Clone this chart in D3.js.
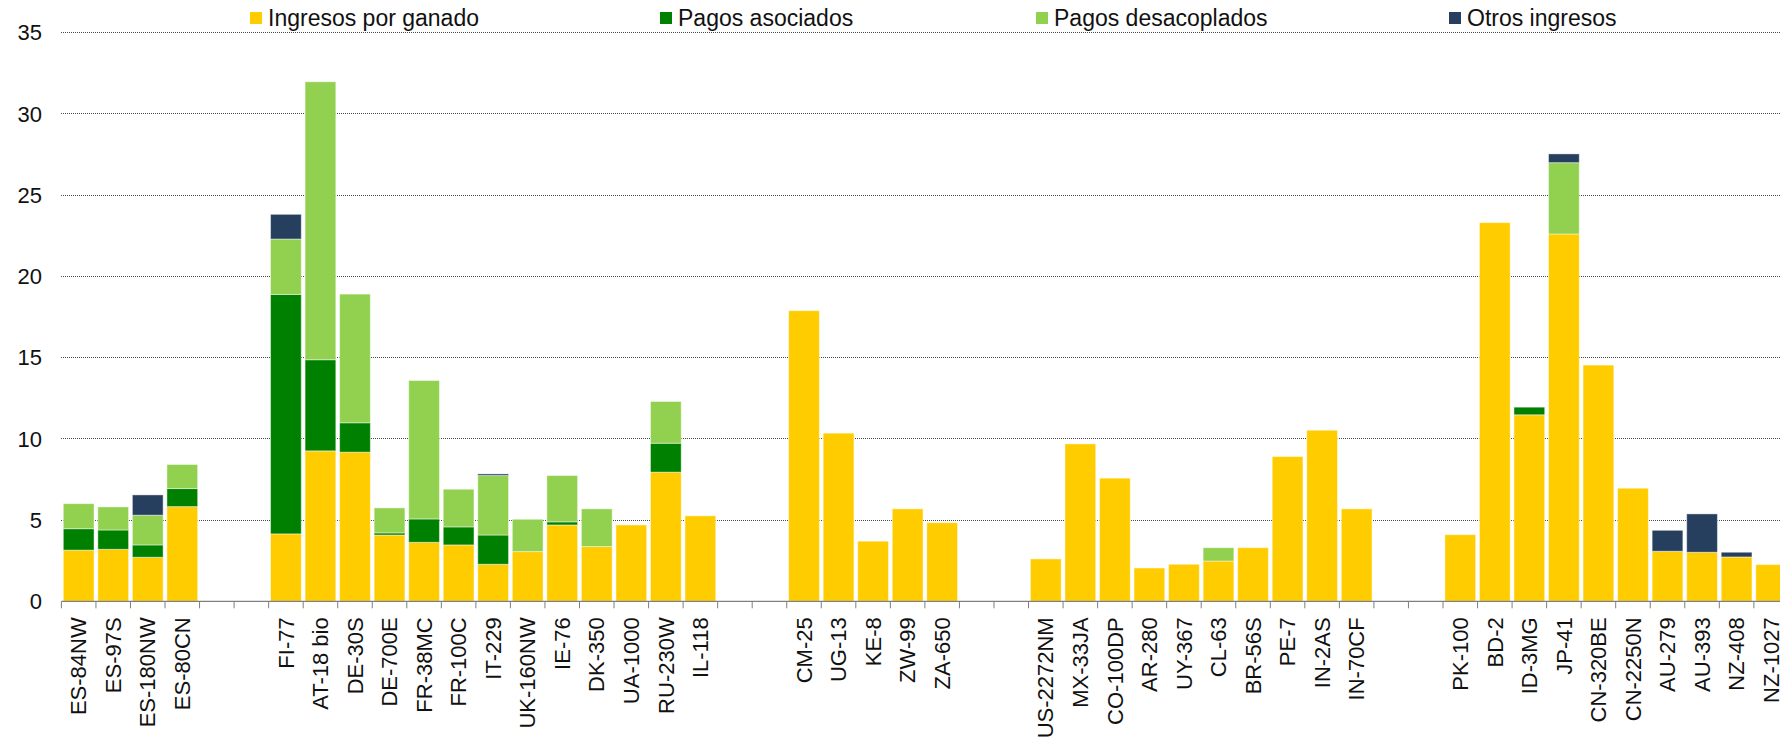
<!DOCTYPE html>
<html>
<head>
<meta charset="utf-8">
<script src="https://cdn.jsdelivr.net/npm/d3@7/dist/d3.min.js"></script>
<style>
  html, body { margin: 0; padding: 0; background: #fff; }
  svg { display: block; font-family: "Liberation Sans", Arial, sans-serif; }
</style>
</head>
<body>
<svg id="chart" width="1780" height="743"></svg>
<script>
// Farm codes; empty strings are spacer slots between regions
const categories = [
  "ES-84NW", "ES-97S", "ES-180NW", "ES-80CN", "", "",
  "FI-77", "AT-18 bio", "DE-30S", "DE-700E", "FR-38MC", "FR-100C", "IT-229",
  "UK-160NW", "IE-76", "DK-350", "UA-1000", "RU-230W", "IL-118", "", "",
  "CM-25", "UG-13", "KE-8", "ZW-99", "ZA-650", "", "",
  "US-2272NM", "MX-33JA", "CO-100DP", "AR-280", "UY-367", "CL-63", "BR-56S",
  "PE-7", "IN-2AS", "IN-70CF", "", "",
  "PK-100", "BD-2", "ID-3MG", "JP-41", "CN-320BE", "CN-2250N", "AU-279",
  "AU-393", "NZ-408", "NZ-1027"
];

const seriesNames = ["Ingresos por ganado", "Pagos asociados", "Pagos desacoplados", "Otros ingresos"];
const seriesColors = ["#FFCC00", "#008000", "#92D050", "#263F5F"];

const ingresosGanado = [
  3.15, 3.20, 2.71, 5.83, null, null,
  4.15, 9.26, 9.18, 4.08, 3.63, 3.47, 2.28, 3.06, 4.70, 3.37, 4.70, 7.95, 5.26, null, null,
  17.89, 10.35, 3.70, 5.69, 4.84, null, null,
  2.61, 9.69, 7.58, 2.05, 2.28, 2.48, 3.30, 8.91, 10.53, 5.69, null, null,
  4.10, 23.31, 11.48, 22.61, 14.54, 6.96, 3.08, 3.02, 2.73, 2.26
];
const pagosAsociados = [
  1.32, 1.19, 0.76, 1.11, null, null,
  14.74, 5.61, 1.81, 0.13, 1.44, 1.11, 1.80, 0, 0.19, 0, 0, 1.78, 0, null, null,
  0, 0, 0, 0, 0, null, null,
  0, 0, 0, 0, 0, 0, 0, 0, 0, 0, null, null,
  0, 0, 0.47, 0, 0, 0, 0, 0, 0, 0
];
const pagosDesacoplados = [
  1.54, 1.42, 1.83, 1.48, null, null,
  3.41, 17.11, 7.92, 1.54, 8.52, 2.32, 3.66, 1.99, 2.85, 2.32, 0, 2.57, 0, null, null,
  0, 0, 0, 0, 0, null, null,
  0, 0, 0, 0, 0, 0.82, 0, 0, 0, 0, null, null,
  0, 0, 0, 4.39, 0, 0, 0, 0, 0, 0
];
const otrosIngresos = [
  0, 0, 1.25, 0, null, null,
  1.52, 0, 0, 0, 0, 0, 0.10, 0, 0, 0, 0, 0, 0, null, null,
  0, 0, 0, 0, 0, null, null,
  0, 0, 0, 0, 0, 0, 0, 0, 0, 0, null, null,
  0, 0, 0, 0.54, 0, 0, 1.29, 2.36, 0.29, 0
];

const yTicks = [0, 5, 10, 15, 20, 25, 30, 35];

// ---- layout ----
const plotLeft = 61.4, step = 34.54;
const yTop = 32.7, yBottom = 601.3;
const fontSize = 22;
const legendFontSize = 23;
const legendX = [250, 660, 1036, 1449];

const svg = d3.select("#chart");

const x = d3.scaleBand()
  .domain(d3.range(categories.length))
  .range([plotLeft, plotLeft + step * categories.length])
  .paddingInner(0.11)
  .paddingOuter(0.055);

const y = d3.scaleLinear().domain([0, 35]).range([yBottom, yTop]);

// Gridlines
svg.append("g")
  .selectAll("line")
  .data(yTicks.filter(t => t > 0))
  .join("line")
  .attr("x1", plotLeft)
  .attr("x2", 1780)
  .attr("y1", d => y(d))
  .attr("y2", d => y(d))
  .attr("stroke", "#4a4a4a")
  .attr("stroke-width", 1)
  .attr("stroke-dasharray", "1,1")
  .attr("shape-rendering", "crispEdges");

// Y tick labels
svg.append("g")
  .selectAll("text")
  .data(yTicks)
  .join("text")
  .attr("x", 42)
  .attr("y", d => y(d))
  .attr("dy", "0.35em")
  .attr("text-anchor", "end")
  .attr("font-size", fontSize)
  .attr("fill", "#111")
  .text(d => d);

// Stacked bars
const rows = categories.map((c, i) => ({
  i,
  cat: c,
  s0: ingresosGanado[i],
  s1: pagosAsociados[i],
  s2: pagosDesacoplados[i],
  s3: otrosIngresos[i]
})).filter(r => r.cat !== "");

const stack = d3.stack().keys(["s0", "s1", "s2", "s3"]);
const stacked = stack(rows);

svg.append("g")
  .selectAll("g")
  .data(stacked)
  .join("g")
  .attr("fill", (d, k) => seriesColors[k])
  .selectAll("rect")
  .data(d => d.filter(p => p[1] - p[0] > 0))
  .join("rect")
  .attr("x", p => x(p.data.i))
  .attr("width", x.bandwidth())
  .attr("y", p => y(p[1]))
  .attr("height", p => y(p[0]) - y(p[1]))
  .attr("stroke", "#ffffff")
  .attr("stroke-opacity", 0.45)
  .attr("stroke-width", 1);

// X axis
const xAxis = svg.append("g");
xAxis.append("line")
  .attr("x1", plotLeft)
  .attr("x2", plotLeft + step * categories.length)
  .attr("y1", yBottom)
  .attr("y2", yBottom)
  .attr("stroke", "#7f7f7f")
  .attr("stroke-width", 1.2);

xAxis.selectAll("line.tick")
  .data(d3.range(categories.length + 1))
  .join("line")
  .attr("class", "tick")
  .attr("x1", i => plotLeft + i * step)
  .attr("x2", i => plotLeft + i * step)
  .attr("y1", yBottom)
  .attr("y2", yBottom + 7)
  .attr("stroke", "#7f7f7f")
  .attr("stroke-width", 1);

xAxis.selectAll("text")
  .data(categories.map((c, i) => ({ c, i })).filter(d => d.c !== ""))
  .join("text")
  .attr("transform", d => `translate(${x(d.i) + x.bandwidth() / 2},${yBottom + 16}) rotate(-90)`)
  .attr("dy", "0.35em")
  .attr("text-anchor", "end")
  .attr("font-size", fontSize)
  .attr("fill", "#111")
  .text(d => d.c);

// Legend
const legend = svg.append("g")
  .selectAll("g")
  .data(seriesNames)
  .join("g")
  .attr("transform", (d, k) => `translate(${legendX[k]},0)`);

legend.append("rect")
  .attr("x", 0)
  .attr("y", 12)
  .attr("width", 12)
  .attr("height", 12)
  .attr("fill", (d, k) => seriesColors[k]);

legend.append("text")
  .attr("x", 18)
  .attr("y", 26)
  .attr("font-size", legendFontSize)
  .attr("fill", "#111")
  .text(d => d);
</script>
</body>
</html>
